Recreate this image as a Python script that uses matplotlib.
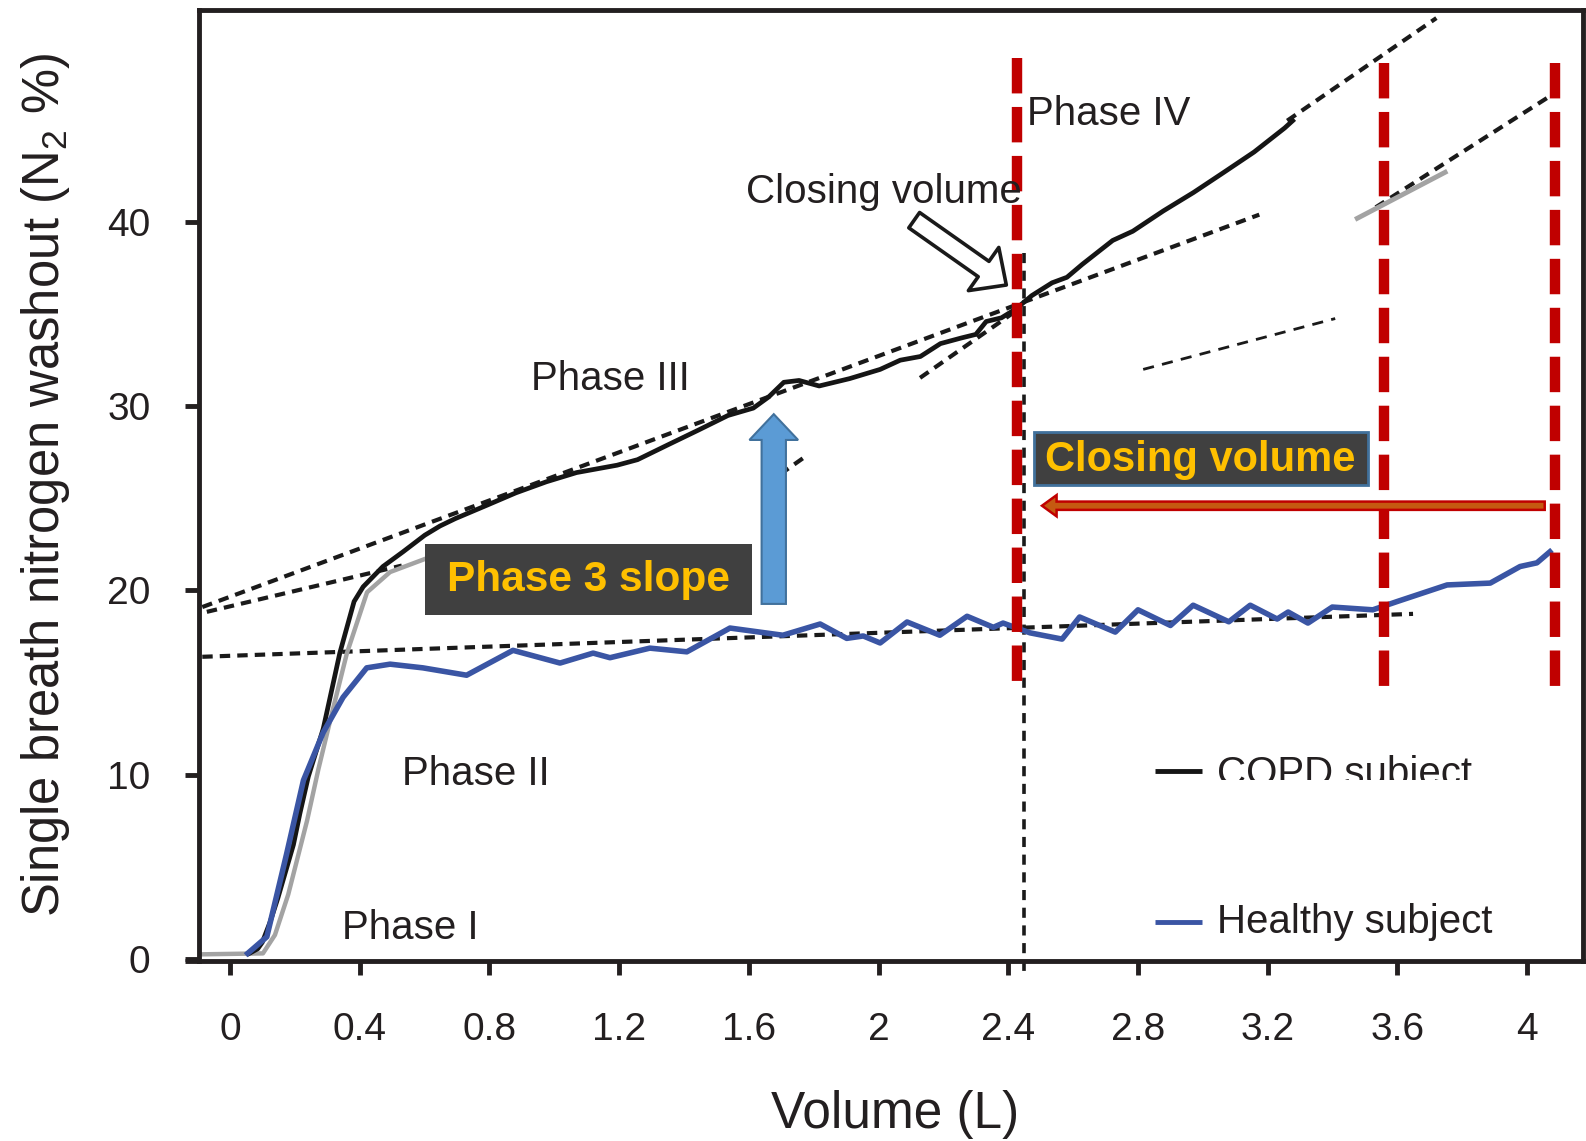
import matplotlib
matplotlib.use("Agg")
import matplotlib.pyplot as plt
from matplotlib.patches import Rectangle, FancyArrow

# --- fonts ---
plt.rcParams['font.family'] = ['Liberation Sans', 'DejaVu Sans']
plt.rcParams['mathtext.fontset'] = 'custom'
plt.rcParams['mathtext.rm'] = 'Liberation Sans'
plt.rcParams['mathtext.default'] = 'regular'

INK = '#231F20'
RED = '#C00000'
BLUE = '#3A55A4'
GREY = '#A3A3A3'
YELLOW = '#FFC000'
BOX = '#404040'

# --- DATA ---
copd_x = [0.06, 0.086, 0.10, 0.124, 0.148, 0.196, 0.216, 0.242, 0.288, 0.339,
          0.383, 0.411, 0.472, 0.534, 0.601, 0.648, 0.695, 0.789, 0.882, 0.976,
          1.069, 1.194, 1.257, 1.350, 1.444, 1.536, 1.614, 1.661, 1.708, 1.755,
          1.817, 1.911, 2.005, 2.067, 2.129, 2.191, 2.254, 2.300, 2.332, 2.379,
          2.425, 2.472, 2.535, 2.581, 2.628, 2.722, 2.784, 2.878, 2.971, 3.065,
          3.158, 3.252, 3.277]
copd_y = [0.3, 0.55, 0.9, 2.0, 3.3, 6.2, 7.9, 9.9, 12.5, 16.6,
          19.4, 20.2, 21.3, 22.1, 23.0, 23.5, 23.9, 24.6, 25.3, 25.9,
          26.4, 26.8, 27.1, 27.9, 28.7, 29.5, 29.9, 30.5, 31.3, 31.4,
          31.1, 31.5, 32.0, 32.5, 32.7, 33.4, 33.7, 33.9, 34.6, 34.8,
          35.3, 36.0, 36.7, 37.0, 37.7, 39.0, 39.5, 40.6, 41.6, 42.7,
          43.8, 45.1, 45.5]

grey_x = [-0.085, 0.102, 0.139, 0.180, 0.238, 0.273, 0.317, 0.361, 0.423, 0.494, 0.60]
grey_y = [0.25, 0.3, 1.3, 3.5, 7.5, 10.3, 13.5, 16.6, 19.9, 21.0, 21.7]
grey2_x = [3.476, 3.747]
grey2_y = [40.2, 42.7]

healthy_x = [0.055, 0.114, 0.175, 0.227, 0.288, 0.349, 0.422, 0.494, 0.595, 0.730,
             0.873, 1.018, 1.12, 1.172, 1.295, 1.409, 1.542, 1.705, 1.82, 1.902,
             1.953, 2.005, 2.088, 2.189, 2.273, 2.354, 2.384, 2.467, 2.566, 2.62,
             2.73, 2.80, 2.90, 2.97, 3.08, 3.146, 3.229, 3.263, 3.324, 3.399,
             3.524, 3.599, 3.753, 3.886, 3.978, 4.03, 4.07]
healthy_y = [0.3, 1.2, 5.7, 9.7, 12.3, 14.2, 15.8, 16.0, 15.8, 15.4,
             16.75, 16.06, 16.6, 16.35, 16.87, 16.67, 17.96, 17.57, 18.18, 17.4,
             17.53, 17.15, 18.29, 17.57, 18.6, 18.0, 18.23, 17.7, 17.36, 18.56,
             17.74, 18.95, 18.1, 19.2, 18.3, 19.2, 18.45, 18.83, 18.23, 19.1,
             18.95, 19.4, 20.3, 20.4, 21.3, 21.5, 22.1]

# fitted (dotted) lines: (x0, y0, x1, y1)
fit_phase3 = (-0.085, 19.1, 3.174, 40.4)
fit_phase3b = (-0.071, 18.84, 0.53, 21.35)
fit_phase4_low = (2.128, 31.54, 2.43, 35.25)
fit_phase4_top = (3.26, 45.5, 3.72, 51.07)
fit_phase4_piece = (1.652, 25.75, 1.776, 27.29)
fit_grey = (3.533, 40.8, 4.094, 47.1)
fit_thin = (2.816, 32.0, 3.408, 34.76)
fit_healthy = (-0.085, 16.4, 3.648, 18.73)

closing_x = [2.426, 3.558, 4.086]
closing_top = [48.9, 48.65, 48.65]
closing_bottom = [14.45, 14.28, 14.28]
cv_line_x = 2.4475

x_ticks = [0, 0.4, 0.8, 1.2, 1.6, 2, 2.4, 2.8, 3.2, 3.6, 4]
x_labels = ['0', '0.4', '0.8', '1.2', '1.6', '2', '2.4', '2.8', '3.2', '3.6', '4']
y_ticks = [0, 10, 20, 30, 40]

fig = plt.figure(figsize=(15.86, 11.41), dpi=100)
ax = fig.add_axes([0.1256, 0.1578, 0.8725, 0.8333])
ax.set_xlim(-0.0945, 4.172)
ax.set_ylim(-0.11, 51.5)

for s in ax.spines.values():
    s.set_linewidth(3.5)
    s.set_color(INK)
ax.plot([-0.0105, 0], [0, 0], transform=ax.transAxes, color=INK, lw=3.5,
        clip_on=False, solid_capstyle='butt')

ax.set_xticks(x_ticks)
ax.set_xticklabels(x_labels)
ax.set_yticks(y_ticks)
ax.tick_params(axis='both', direction='out', length=10, width=3.5, color=INK,
               labelsize=28, labelcolor=INK)
ax.tick_params(axis='y', pad=25)
ax.tick_params(axis='x', pad=27)

fig.text(0.5643, 0.0235, 'Volume (L)', fontsize=37, color=INK, ha='center', va='center')
fig.text(0.0287, 0.5745, 'Single breath nitrogen washout (N$_2$ %)', fontsize=36.5,
         color=INK, ha='center', va='center', rotation=90)

# dotted fit lines
def dotted(seg, lw=3.0, dashes=(2.5, 1.7)):
    ax.plot([seg[0], seg[2]], [seg[1], seg[3]], color='#1A1A1A', lw=lw,
            dashes=dashes, zorder=2)

for seg in [fit_phase3, fit_phase3b, fit_phase4_low, fit_phase4_top,
            fit_phase4_piece, fit_grey, fit_healthy]:
    dotted(seg)
dotted(fit_thin, lw=2.0, dashes=(4, 3))

# curves
ax.plot(grey_x, grey_y, color=GREY, lw=3.2, zorder=2.5)
ax.plot(grey2_x, grey2_y, color=GREY, lw=3.5, zorder=2.5)
ax.plot(copd_x, copd_y, color='#151515', lw=3.4, zorder=3)
ax.plot(healthy_x, healthy_y, color=BLUE, lw=4, zorder=3)

# vertical dotted line at closing volume
ax.plot([cv_line_x, cv_line_x], [38.3, -0.9], color='#1A1A1A', lw=2.6,
        dashes=(2.8, 2.1), clip_on=False, zorder=2)

# red dashed markers
for xv, top, bot in zip(closing_x, closing_top, closing_bottom):
    ax.plot([xv, xv], [top, bot], color=RED, lw=7.5,
            dashes=(3.4, 1.3), dash_capstyle='butt', zorder=6)

# phase labels
lbl = dict(fontsize=29, color=INK, ha='left', va='center', zorder=7)
ax.text(2.457, 45.85, 'Phase IV', **lbl)
ax.text(1.590, 41.63, 'Closing volume', **lbl)
ax.text(0.929, 31.47, 'Phase III', **lbl)
ax.text(0.532, 10.05, 'Phase II', **lbl)
ax.text(0.345, 1.70, 'Phase I', **lbl)

# hollow arrow to closing volume
ax.annotate('', xy=(2.394, 36.58), xytext=(2.110, 40.1),
            arrowprops=dict(arrowstyle='simple,head_length=2.0,head_width=3.8,tail_width=1.35',
                            fc='white', ec='#1A1A1A', lw=2.6, shrinkA=0, shrinkB=0,
                            mutation_scale=10), zorder=7)

# legend (drawn by hand)
ax.plot([2.853, 2.996], [10.21, 10.21], color='#151515', lw=3.5, solid_capstyle='butt')
ax.plot([2.853, 2.996], [1.98, 1.98], color=BLUE, lw=3.5, solid_capstyle='butt')
ax.text(3.043, 10.05, 'COPD subject', **lbl)
ax.add_patch(Rectangle((3.0, 8.6), 0.95, 1.12, facecolor='white', edgecolor='none', zorder=8))
ax.text(3.043, 2.0, 'Healthy subject', **lbl)

# "Phase 3 slope" box
ax.add_patch(Rectangle((0.601, 18.67), 1.008, 3.84, facecolor=BOX, edgecolor='none', zorder=9))
ax.text(1.105, 20.55, 'Phase 3 slope', fontsize=30.5, fontweight='bold', color=YELLOW,
        ha='center', va='center', zorder=10)

# blue up arrow
ax.add_patch(FancyArrow(1.677, 19.27, 0, 10.3, width=0.075, head_width=0.15,
                        head_length=1.4, length_includes_head=True,
                        facecolor='#5B9BD5', edgecolor='#41719C', lw=1.5, zorder=9))

# "Closing volume" box
ax.add_patch(Rectangle((2.478, 25.7), 1.03, 2.9, facecolor=BOX, edgecolor='#41719C',
                       lw=2, zorder=9))
ax.text(2.993, 27.1, 'Closing volume', fontsize=30, fontweight='bold', color=YELLOW,
        ha='center', va='center', zorder=10)

# red horizontal arrow
ax.add_patch(FancyArrow(4.054, 24.6, -1.55, 0, width=0.45, head_width=1.15,
                        head_length=0.045, length_includes_head=True,
                        facecolor='#C55A11', edgecolor=RED, lw=1.8, zorder=9))

fig.savefig('out.png', dpi=100)
